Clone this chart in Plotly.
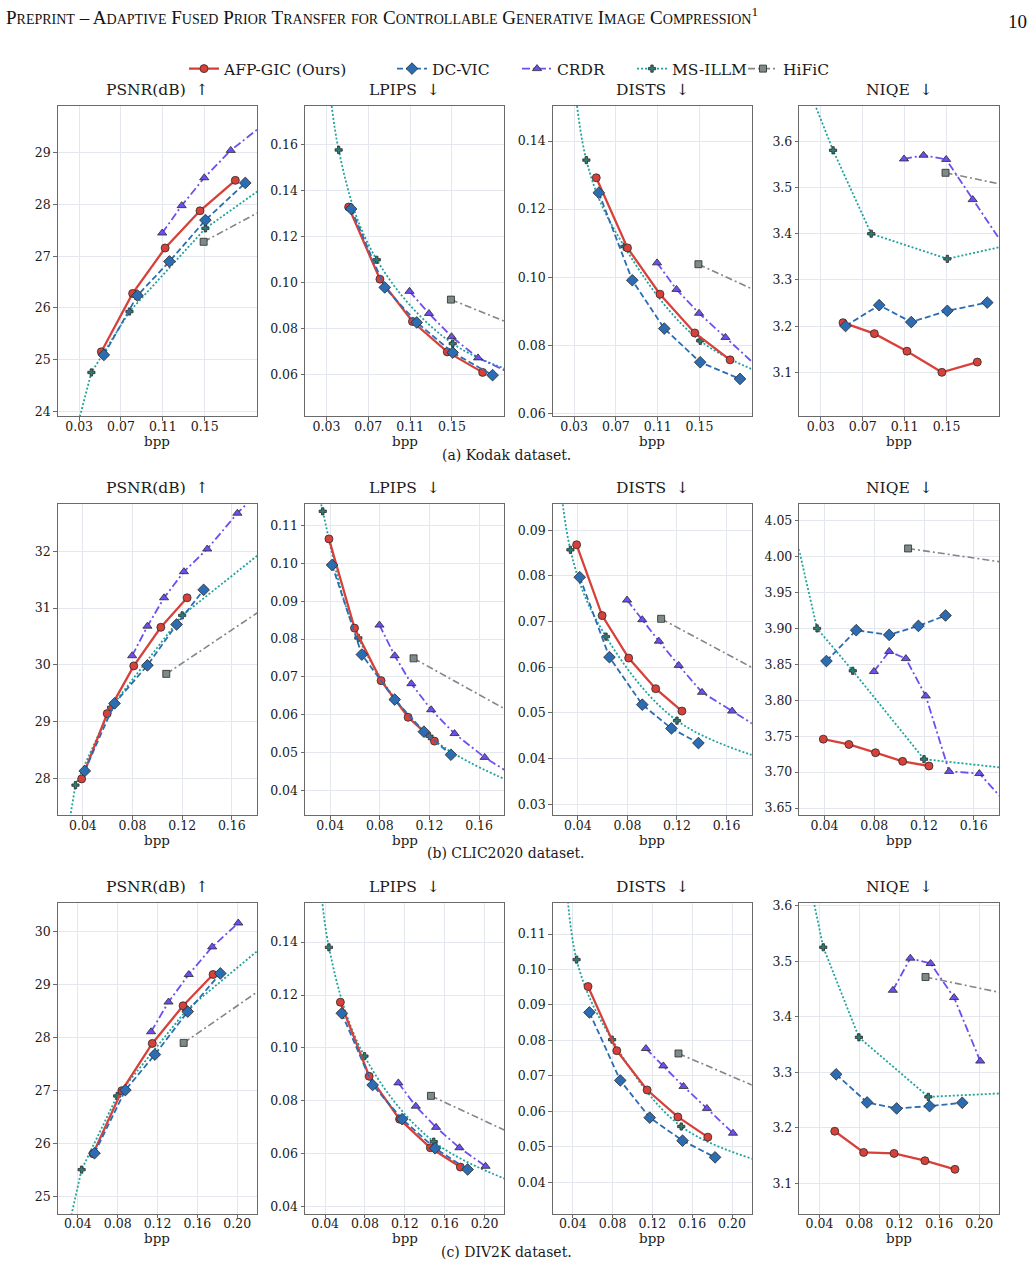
import plotly.graph_objects as go

# ---------------------------------------------------------------- data
METHODS = ["AFP-GIC (Ours)", "DC-VIC", "CRDR", "MS-ILLM", "HiFiC"]
METRIC_TITLES = ["PSNR(dB)  ↑", "LPIPS  ↓", "DISTS  ↓", "NIQE  ↓"]
CAPTIONS = ["(a) Kodak dataset.", "(b) CLIC2020 dataset.", "(c) DIV2K dataset."]
X_LABEL = "bpp"

# ---- Kodak
KODAK_BPP = {
    "AFP-GIC (Ours)": [0.0512, 0.0811, 0.1122, 0.1455, 0.1793],
    "DC-VIC": [0.0536, 0.0857, 0.1163, 0.1507, 0.1888],
    "CRDR": [0.1094, 0.1280, 0.1496, 0.1749, 0.2100],
    "MS-ILLM": [0.0200, 0.0417, 0.0781, 0.1507, 0.2500],
    "HiFiC": [0.1490, 0.2500],
}
KODAK_PSNR = {
    "AFP-GIC (Ours)": [25.15, 26.28, 27.16, 27.88, 28.47],
    "DC-VIC": [25.09, 26.24, 26.90, 27.70, 28.42],
    "CRDR": [27.45, 27.98, 28.52, 29.05, 29.61],
    "MS-ILLM": [23.07, 24.75, 25.93, 27.54, 28.97],
    "HiFiC": [27.28, 28.38],
}
KODAK_LPIPS = {
    "AFP-GIC (Ours)": [0.1328, 0.1015, 0.0831, 0.0699, 0.0610],
    "DC-VIC": [0.1320, 0.0979, 0.0827, 0.0696, 0.0598],
    "CRDR": [0.0962, 0.0866, 0.0765, 0.0673, 0.0598],
    "MS-ILLM": [0.2790, 0.1576, 0.1099, 0.0735, 0.0555],
    "HiFiC": [0.0926, 0.0741],
}
KODAK_DISTS = {
    "AFP-GIC (Ours)": [0.1292, 0.1086, 0.0950, 0.0836, 0.0757],
    "DC-VIC": [0.1248, 0.0991, 0.0849, 0.0750, 0.0701],
    "CRDR": [0.1042, 0.0964, 0.0894, 0.0823, 0.0724],
    "MS-ILLM": [0.2125, 0.1344, 0.1090, 0.0813, 0.0673],
    "HiFiC": [0.1038, 0.0895],
}
KODAK_NIQE = {
    "AFP-GIC (Ours)": [3.2075, 3.1838, 3.1458, 3.1000, 3.1222],
    "DC-VIC": [3.2003, 3.2454, 3.2089, 3.2332, 3.2511],
    "CRDR": [3.562, 3.570, 3.561, 3.474, 3.356],
    "MS-ILLM": [3.705, 3.5807, 3.4001, 3.3457, 3.396],
    "HiFiC": [3.532, 3.485],
}

# ---- CLIC2020
CLIC_BPP = {
    "AFP-GIC (Ours)": [0.0390, 0.0596, 0.0810, 0.1028, 0.1240],
    "DC-VIC": [0.0415, 0.0655, 0.0920, 0.1155, 0.1373],
    "CRDR": [0.0797, 0.0920, 0.1054, 0.1214, 0.1402, 0.1645, 0.1900],
    "MS-ILLM": [0.0150, 0.0340, 0.0627, 0.1200, 0.2000],
    "HiFiC": [0.1072, 0.2000],
}
CLIC_PSNR = {
    "AFP-GIC (Ours)": [27.99, 29.14, 29.98, 30.66, 31.18],
    "DC-VIC": [28.13, 29.32, 29.99, 30.71, 31.32],
    "CRDR": [30.16, 30.68, 31.18, 31.64, 32.04, 32.67, 33.23],
    "MS-ILLM": [25.37, 27.88, 29.25, 30.87, 32.26],
    "HiFiC": [29.84, 31.20],
}
CLIC_LPIPS = {
    "AFP-GIC (Ours)": [0.1065, 0.0829, 0.0690, 0.0593, 0.0530],
    "DC-VIC": [0.0996, 0.0759, 0.0640, 0.0555, 0.0494],
    "CRDR": [0.0837, 0.0756, 0.0682, 0.0613, 0.0550, 0.0487, 0.0434],
    "MS-ILLM": [0.1480, 0.1138, 0.0803, 0.0543, 0.0403],
    "HiFiC": [0.0749, 0.0580],
}
CLIC_DISTS = {
    "AFP-GIC (Ours)": [0.0868, 0.0713, 0.0620, 0.0553, 0.0504],
    "DC-VIC": [0.0797, 0.0622, 0.0518, 0.0466, 0.0434],
    "CRDR": [0.0747, 0.0704, 0.0657, 0.0604, 0.0545, 0.0504, 0.0461],
    "MS-ILLM": [0.1560, 0.0857, 0.0667, 0.0483, 0.0391],
    "HiFiC": [0.0706, 0.0571],
}
CLIC_NIQE = {
    "AFP-GIC (Ours)": [3.7459, 3.7385, 3.7270, 3.7150, 3.7085],
    "DC-VIC": [3.8546, 3.8975, 3.8910, 3.9035, 3.9180],
    "CRDR": [3.840, 3.868, 3.858, 3.806, 3.701, 3.698, 3.6495],
    "MS-ILLM": [4.043, 3.900, 3.841, 3.718, 3.703],
    "HiFiC": [4.0113, 3.988],
}

# ---- DIV2K
DIV2K_BPP = {
    "AFP-GIC (Ours)": [0.0553, 0.0842, 0.1147, 0.1456, 0.1757],
    "DC-VIC": [0.0567, 0.0877, 0.1173, 0.1503, 0.1830],
    "CRDR": [0.1135, 0.1310, 0.1513, 0.1748, 0.2010],
    "MS-ILLM": [0.0300, 0.0438, 0.0795, 0.1490, 0.2500],
    "HiFiC": [0.1462, 0.2500],
}
DIV2K_PSNR = {
    "AFP-GIC (Ours)": [25.81, 27.00, 27.89, 28.60, 29.19],
    "DC-VIC": [25.82, 27.01, 27.68, 28.49, 29.21],
    "CRDR": [28.11, 28.67, 29.19, 29.71, 30.16],
    "MS-ILLM": [24.36, 25.51, 26.90, 28.52, 30.10],
    "HiFiC": [27.90, 29.25],
}
DIV2K_LPIPS = {
    "AFP-GIC (Ours)": [0.1173, 0.0893, 0.0731, 0.0623, 0.0550],
    "DC-VIC": [0.1131, 0.0860, 0.0731, 0.0621, 0.0541],
    "CRDR": [0.0868, 0.0780, 0.0700, 0.0623, 0.0553],
    "MS-ILLM": [0.1950, 0.1380, 0.0969, 0.0646, 0.0464],
    "HiFiC": [0.0819, 0.0637],
}
DIV2K_DISTS = {
    "AFP-GIC (Ours)": [0.0952, 0.0771, 0.0660, 0.0584, 0.0527],
    "DC-VIC": [0.0879, 0.0687, 0.0582, 0.0517, 0.0470],
    "CRDR": [0.0777, 0.0728, 0.0670, 0.0608, 0.0538],
    "MS-ILLM": [0.1497, 0.1028, 0.0802, 0.0557, 0.0441],
    "HiFiC": [0.0763, 0.0638],
}
DIV2K_NIQE = {
    "AFP-GIC (Ours)": [3.1937, 3.1555, 3.1537, 3.1406, 3.1250],
    "DC-VIC": [3.2963, 3.2456, 3.2348, 3.2390, 3.2450],
    "CRDR": [3.4478, 3.5057, 3.4962, 3.4347, 3.3202],
    "MS-ILLM": [3.644, 3.5254, 3.3631, 3.2557, 3.2644],
    "HiFiC": [3.4717, 3.433],
}

# axis tick values
KODAK_XTICKS = [0.03, 0.07, 0.11, 0.15]
CLIC_XTICKS = [0.04, 0.08, 0.12, 0.16]
DIV2K_XTICKS = [0.04, 0.08, 0.12, 0.16, 0.20]

DATASETS = [
    dict(bpp=KODAK_BPP, metrics=[KODAK_PSNR, KODAK_LPIPS, KODAK_DISTS, KODAK_NIQE],
         xr=[0.0095, 0.2], xt=KODAK_XTICKS,
         yr=[[23.9, 29.91], [0.0419, 0.1767], [0.0591, 0.1503], [3.0047, 3.6767]],
         yf=[".0f", ".2f", ".2f", ".1f"], ydt=[1, 0.02, 0.02, 0.1]),
    dict(bpp=CLIC_BPP, metrics=[CLIC_PSNR, CLIC_LPIPS, CLIC_DISTS, CLIC_NIQE],
         xr=[0.0197, 0.1803], xt=CLIC_XTICKS,
         yr=[[27.35, 32.83], [0.0334, 0.1157], [0.0276, 0.0957], [3.640, 4.073]],
         yf=[".0f", ".2f", ".2f", ".2f"], ydt=[1, 0.01, 0.01, 0.05]),
    dict(bpp=DIV2K_BPP, metrics=[DIV2K_PSNR, DIV2K_LPIPS, DIV2K_DISTS, DIV2K_NIQE],
         xr=[0.0198, 0.2198], xt=DIV2K_XTICKS,
         yr=[[24.68, 30.54], [0.0374, 0.1548], [0.0311, 0.1188], [3.0451, 3.6054]],
         yf=[".0f", ".2f", ".2f", ".1f"], ydt=[1, 0.02, 0.01, 0.1]),
]

# ---------------------------------------------------------------- style
W, H = 1035, 1269
COLS = [(57.7, 257.0), (305.0, 504.3), (552.7, 751.7), (799.3, 999.0)]
ROWS = [(101.7, 414.3), (502.7, 816.0), (904.3, 1217.3)]
LEGEND_TEXT_X = [224, 432, 557, 672, 783]
FONT = "DejaVu Serif"

STYLE = {
    "AFP-GIC (Ours)": dict(color="#d8413a", mcolor="#d8413a", dash="solid", width=2.3,
                           symbol="circle", size=8),
    "DC-VIC": dict(color="#2b6cb3", mcolor="#2b6cb3", dash="6px,3px", width=1.8,
                   symbol="diamond", size=9),
    "CRDR": dict(color="#6f4ef0", mcolor="#6f4ef0", dash="8px,3px,2px,3px", width=1.8,
                 symbol="triangle-up", size=8),
    "MS-ILLM": dict(color="#1fa39c", mcolor="#2b7d76", dash="2px,2px", width=1.8,
                    symbol="cross", size=6),
    "HiFiC": dict(color="#858585", mcolor="#7d8a8a", dash="7px,3px,2px,3px", width=1.6,
                  symbol="square", size=7),
}
DRAW_ORDER = ["HiFiC", "MS-ILLM", "CRDR", "AFP-GIC (Ours)", "DC-VIC"]


def px_x(v):
    return v / W


def px_y(v):
    return 1 - v / H


def frange(a, b, step):
    vals = []
    k = 0
    while True:
        v = round(a + k * step, 6)
        if v > b + 1e-9:
            break
        vals.append(v)
        k += 1
    return vals


def legend_key(i):
    return "legend" if i == 0 else f"legend{i + 1}"


fig = go.Figure()
layout = dict(
    width=W, height=H, autosize=False,
    margin=dict(l=0, r=0, t=0, b=0),
    paper_bgcolor="white", plot_bgcolor="white",
    font=dict(family=FONT, color="#1a1a1a"),
    showlegend=True,
)
for i, m in enumerate(METHODS):
    layout[legend_key(i)] = dict(
        orientation="h", x=px_x(LEGEND_TEXT_X[i] - 40), xanchor="left",
        y=px_y(64.5), yanchor="middle",
        font=dict(family=FONT, size=15.5, color="#1a1a1a"),
        bgcolor="rgba(0,0,0,0)", itemwidth=30)

annotations = []

for r, ds in enumerate(DATASETS):
    y0, y1 = ROWS[r]
    for c, metric in enumerate(ds["metrics"]):
        x0, x1 = COLS[c]
        k = r * 4 + c + 1
        xa, ya = f"x{k}", f"y{k}"
        for m in DRAW_ORDER:
            st = STYLE[m]
            shape = "spline" if (m == "MS-ILLM" and c in (1, 2)) else "linear"
            fig.add_trace(go.Scatter(
                x=ds["bpp"][m], y=metric[m], mode="lines+markers", name=m,
                legendgroup=m, showlegend=(k == 1), legend=legend_key(METHODS.index(m)),
                line=dict(color=st["color"], width=st["width"], dash=st["dash"], shape=shape),
                marker=dict(symbol=st["symbol"], size=st["size"], color=st["mcolor"],
                            line=dict(color="#2a2a2a", width=0.8)),
                xaxis=xa, yaxis=ya, cliponaxis=True,
            ))
        ylo, yhi = ds["yr"][c]
        dt = ds["ydt"][c]
        start = round((int(ylo / dt) + 1) * dt, 6)
        yticks = frange(start, yhi, dt)
        common = dict(showline=True, mirror=True, linecolor="#6a6a6a", linewidth=1,
                      showgrid=True, gridcolor="#e4e7ee", gridwidth=1, zeroline=False,
                      ticks="outside", ticklen=3.5, tickcolor="#6a6a6a",
                      tickfont=dict(family=FONT, size=12.5, color="#1a1a1a"))
        layout[f"xaxis{k}"] = dict(common, domain=[px_x(x0), px_x(x1)], anchor=ya,
                                   range=ds["xr"], tickvals=ds["xt"], tickformat=".2f",
                                   ticklabelstandoff=-5)
        layout[f"yaxis{k}"] = dict(common, domain=[px_y(y1), px_y(y0)], anchor=xa,
                                   range=[ylo, yhi], tickvals=yticks, tickformat=ds["yf"][c])
        annotations.append(dict(text=METRIC_TITLES[c], x=px_x((x0 + x1) / 2), y=px_y(y0 - 16.5),
                                xref="paper", yref="paper", xanchor="center", yanchor="middle",
                                showarrow=False, font=dict(family=FONT, size=15.5, color="#1a1a1a")))
        annotations.append(dict(text=X_LABEL, x=px_x((x0 + x1) / 2), y=px_y(y1 + 25),
                                xref="paper", yref="paper", xanchor="center", yanchor="middle",
                                showarrow=False, font=dict(family=FONT, size=13.5, color="#1a1a1a")))
    annotations.append(dict(text=CAPTIONS[r], x=px_x(506), y=px_y(y1 + 38.5),
                            xref="paper", yref="paper", xanchor="center", yanchor="middle",
                            showarrow=False, font=dict(family=FONT, size=14, color="#1a1a1a")))


def small_caps(text, small):
    out = []
    for w in text.split(" "):
        if w.islower():
            out.append(f"<span style='font-size:{small}px'>{w.upper()}</span>")
        elif w[0].isalpha():
            out.append(w[0] + f"<span style='font-size:{small}px'>{w[1:].upper()}</span>")
        else:
            out.append(w)
    return " ".join(out)


HEADER = "Preprint – Adaptive Fused Prior Transfer for Controllable Generative Image Compression"
PAGE_NO = "10"
annotations.append(dict(text=small_caps(HEADER, 14) + "<sup>1</sup>", x=px_x(4), y=px_y(11),
                        xref="paper", yref="paper", xanchor="left", yanchor="middle",
                        showarrow=False, font=dict(family="Liberation Serif", size=19, color="#111")))
annotations.append(dict(text=PAGE_NO, x=px_x(1029), y=px_y(17), xref="paper", yref="paper",
                        xanchor="right", yanchor="middle", showarrow=False,
                        font=dict(family="Liberation Serif", size=19, color="#111")))

layout["annotations"] = annotations
fig.update_layout(**layout)
fig.write_html("out.html")
